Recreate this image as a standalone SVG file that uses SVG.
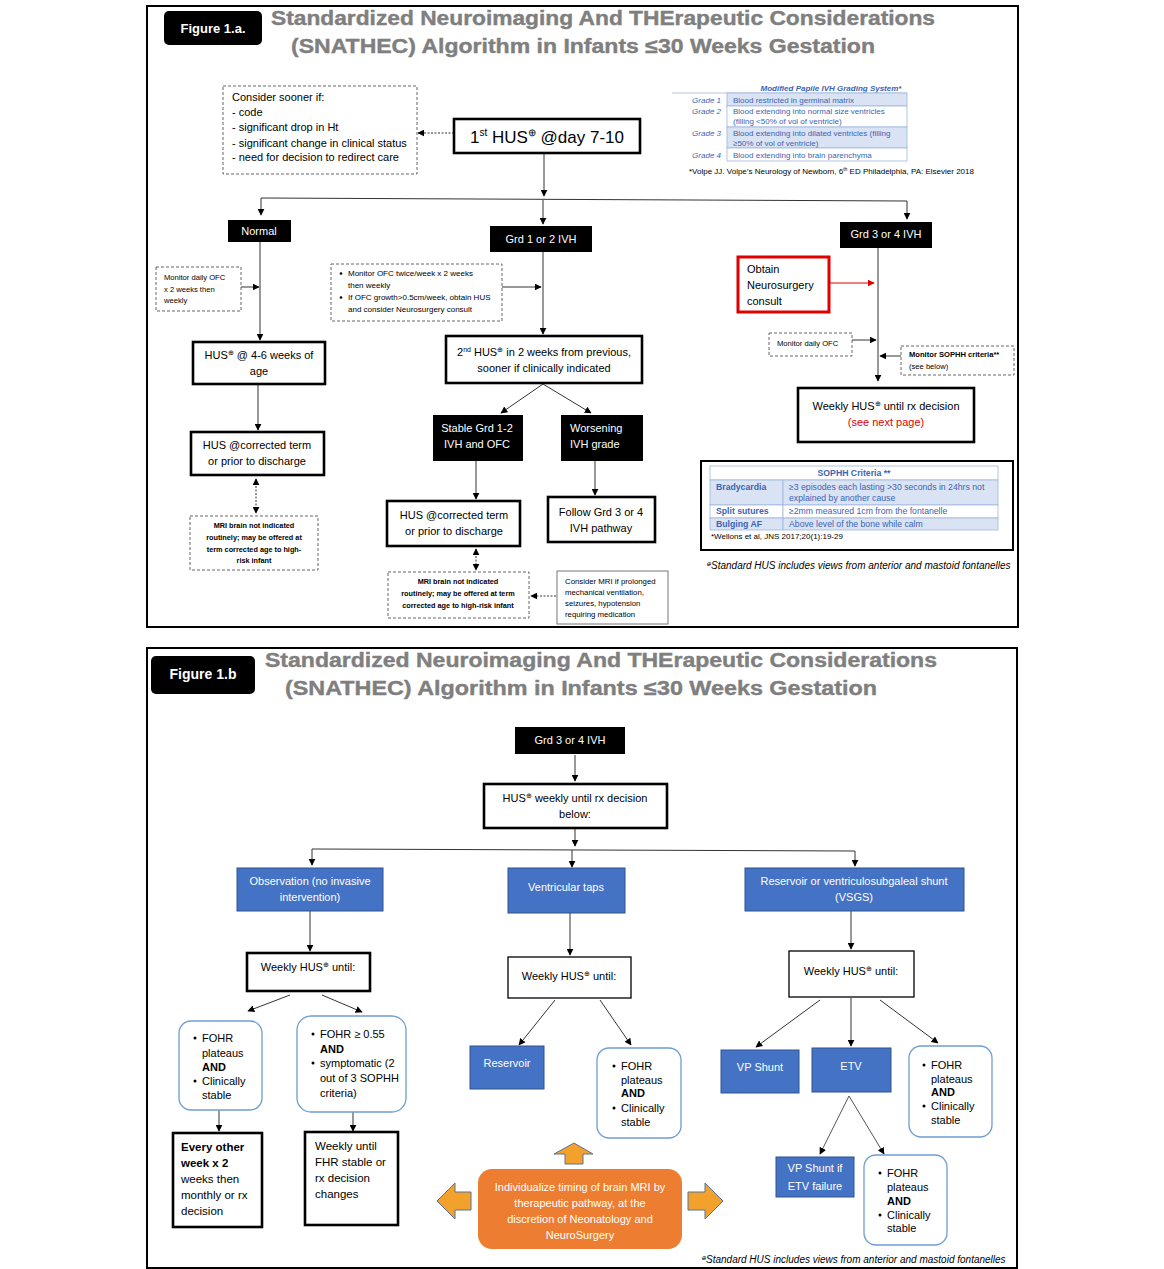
<svg xmlns="http://www.w3.org/2000/svg" width="1164" height="1269" viewBox="0 0 1164 1269">
<defs>
<marker id="ah" viewBox="0 0 10 10" refX="9" refY="5" markerWidth="7" markerHeight="7" orient="auto-start-reverse" markerUnits="userSpaceOnUse"><path d="M0,0 L10,5 L0,10 z" fill="#000"/></marker>
<marker id="ahr" viewBox="0 0 10 10" refX="9" refY="5" markerWidth="7" markerHeight="7" orient="auto" markerUnits="userSpaceOnUse"><path d="M0,0 L10,5 L0,10 z" fill="#e00000"/></marker>
</defs>
<style>
text{font-family:"Liberation Sans",Arial,sans-serif;font-size:11px;fill:#000}
.c{text-anchor:middle}
.e{text-anchor:end}
.w{fill:#fff}
.b{font-weight:bold}
.i{font-style:italic}
.ttl{font-size:20px;font-weight:bold;fill:#7f7f7f;stroke:#7f7f7f;stroke-width:0.4}
.frame{fill:none;stroke:#000;stroke-width:2}
.thick{fill:#fff;stroke:#000;stroke-width:2.6}
.dash{fill:#fff;stroke:#666;stroke-width:1;stroke-dasharray:3 2}
.blk{fill:#000}
.blue{fill:#4472c4;stroke:#2f528f;stroke-width:1}
.rnd{fill:#fff;stroke:#6d9dd2;stroke-width:1.3}
.ln{fill:none;stroke:#333;stroke-width:1;marker-end:url(#ah)}
.dl{fill:none;stroke:#333;stroke-width:1;stroke-dasharray:2 1.5;marker-end:url(#ah)}
.dd{fill:none;stroke:#333;stroke-width:1;stroke-dasharray:2 1.5;marker-end:url(#ah);marker-start:url(#ah)}
.s8{font-size:8px}
.s86{font-size:8.7px}
.s7{font-size:7.3px}
.bt{fill:#3b64b4}
.cell{fill:#dae3f3;stroke:#9fb6dc;stroke-width:0.8}
.cellw{fill:#fff;stroke:#9fb6dc;stroke-width:0.8}
.arr{fill:#f2a22c;stroke:#5a7394;stroke-width:1}
.fn{font-size:10px;font-style:italic}
</style>

<!-- Figure 1.a frame and title -->
<g id="fig1a">
<rect class="frame" x="147" y="6" width="871" height="621"/>
<rect x="164" y="11" width="98" height="34" rx="5" class="blk"/>
<text x="213" y="33" class="c w b" style="font-size:13px">Figure 1.a.</text>
<text x="603" y="25" class="c ttl" textLength="664" lengthAdjust="spacingAndGlyphs">Standardized Neuroimaging And THErapeutic Considerations</text>
<text x="583" y="53" class="c ttl" textLength="584" lengthAdjust="spacingAndGlyphs">(SNATHEC) Algorithm in Infants ≤30 Weeks Gestation</text>
</g>

<!-- connectors figure 1a -->
<g id="connectors-1a">
<line class="dl" x1="454" y1="133" x2="418" y2="133"/>
<line class="ln" x1="544" y1="153" x2="544" y2="196"/>
<line x1="261" y1="198" x2="907" y2="201" stroke="#333" stroke-width="1"/>
<line class="ln" x1="261" y1="198" x2="261" y2="215"/>
<line class="ln" x1="543" y1="200" x2="543" y2="224"/>
<line class="ln" x1="907" y1="201" x2="907" y2="219"/>
<line class="ln" x1="260" y1="242" x2="260" y2="340"/>
<line class="ln" x1="241" y1="287" x2="259" y2="287"/>
<line class="ln" x1="258" y1="384" x2="258" y2="430"/>
<line class="dd" x1="256" y1="479" x2="256" y2="513"/>
<line class="ln" x1="543" y1="252" x2="543" y2="334"/>
<line class="ln" x1="502" y1="287" x2="541" y2="287"/>
<line class="ln" x1="543" y1="384" x2="501" y2="413"/>
<line class="ln" x1="543" y1="384" x2="591" y2="413"/>
<line class="ln" x1="476" y1="461" x2="476" y2="499"/>
<line class="ln" x1="595" y1="461" x2="595" y2="495"/>
<line class="dd" x1="476" y1="549" x2="476" y2="570"/>
<line class="dl" x1="556" y1="596" x2="531" y2="596"/>
<line class="ln" x1="878" y1="248" x2="878" y2="381"/>
<line x1="830" y1="283" x2="874" y2="283" stroke="#e00000" stroke-width="1" marker-end="url(#ahr)"/>
<line class="ln" x1="852" y1="340" x2="876" y2="340"/>
<line class="ln" x1="901" y1="356" x2="880" y2="356"/>
</g>

<g id="consider">
<rect class="dash" x="223" y="86" width="194" height="88"/>
<text x="232" y="101">Consider sooner if:</text>
<text x="232" y="116">- code</text>
<text x="232" y="131">- significant drop in Ht</text>
<text x="232" y="147">- significant change in clinical status</text>
<text x="232" y="161">- need for decision to redirect care</text>
</g>

<g id="hus1">
<rect class="thick" x="454" y="119" width="186" height="34"/>
<text x="547" y="143" class="c" style="font-size:17px">1<tspan font-size="10" dy="-7">st</tspan><tspan dy="7"> HUS</tspan><tspan font-size="10" dy="-7">⊕</tspan><tspan dy="7"> @day 7-10</tspan></text>
</g>

<g id="grading-table">
<text x="831" y="91" class="c s8 b i bt">Modified Papile IVH Grading System*</text>
<line x1="672" y1="93" x2="907" y2="93" stroke="#9fb6dc" stroke-width="0.8"/>
<rect class="cell" x="727" y="93" width="180" height="13"/>
<rect class="cellw" x="727" y="106" width="180" height="21"/>
<rect class="cell" x="727" y="127" width="180" height="21"/>
<rect class="cellw" x="727" y="148" width="180" height="13"/>
<text x="721" y="103" class="e s8 i bt">Grade 1</text>
<text x="733" y="103" class="s8 bt">Blood restricted in germinal matrix</text>
<text x="721" y="114" class="e s8 i bt">Grade 2</text>
<text x="733" y="114" class="s8 bt">Blood extending into normal size ventricles</text>
<text x="733" y="124" class="s8 bt">(filling &lt;50% of vol of ventricle)</text>
<text x="721" y="136" class="e s8 i bt">Grade 3</text>
<text x="733" y="136" class="s8 bt">Blood extending into dilated ventricles (filling</text>
<text x="733" y="146" class="s8 bt">≥50% of vol of ventricle)</text>
<text x="721" y="158" class="e s8 i bt">Grade 4</text>
<text x="733" y="158" class="s8 bt">Blood extending into brain parenchyma</text>
<text x="689" y="174" class="s8">*Volpe JJ. Volpe’s Neurology of Newborn, 6<tspan font-size="5" dy="-3">th</tspan><tspan dy="3"> ED Philadelphia, PA: Elsevier 2018</tspan></text>
</g>

<g id="normal">
<rect class="blk" x="228" y="220" width="63" height="22"/>
<text x="259" y="235" class="c w">Normal</text>
</g>
<g id="grd12">
<rect class="blk" x="490" y="226" width="102" height="26"/>
<text x="541" y="243" class="c w">Grd 1 or 2 IVH</text>
</g>
<g id="grd34">
<rect class="blk" x="840" y="222" width="92" height="26"/>
<text x="886" y="238" class="c w">Grd 3 or 4 IVH</text>
</g>

<g id="monitor-left">
<rect class="dash" x="156" y="267" width="85" height="44"/>
<text x="164" y="280" style="font-size:7.6px">Monitor daily OFC</text>
<text x="164" y="292" style="font-size:7.6px">x 2 weeks then</text>
<text x="164" y="303" style="font-size:7.6px">weekly</text>
</g>

<g id="hus46">
<rect class="thick" x="193" y="342" width="132" height="42"/>
<text x="259" y="359" class="c">HUS<tspan font-size="7" dy="-4">⊕</tspan><tspan dy="4"> @ 4-6 weeks of</tspan></text>
<text x="259" y="375" class="c">age</text>
</g>

<g id="hus-term-1">
<rect class="thick" x="191" y="432" width="133" height="43"/>
<text x="257" y="449" class="c">HUS @corrected term</text>
<text x="257" y="465" class="c">or prior to discharge</text>
</g>

<g id="mri-1">
<rect class="dash" x="190" y="516" width="128" height="54"/>
<text x="254" y="528" class="c s7 b">MRI brain not indicated</text>
<text x="254" y="540" class="c s7 b">routinely; may be offered at</text>
<text x="254" y="552" class="c s7 b">term corrected age to high-</text>
<text x="254" y="563" class="c s7 b">risk infant</text>
</g>

<g id="ofc-bullets">
<rect class="dash" x="331" y="264" width="171" height="57"/>
<circle cx="341" cy="273.5" r="1.3"/>
<text x="348" y="276" class="s8">Monitor OFC twice/week x 2 weeks</text>
<text x="348" y="288" class="s8">then weekly</text>
<circle cx="341" cy="297.5" r="1.3"/>
<text x="348" y="300" class="s8">If OFC growth&gt;0.5cm/week, obtain HUS</text>
<text x="348" y="312" class="s8">and consider Neurosurgery consult</text>
</g>

<g id="hus2">
<rect class="thick" x="446" y="336" width="196" height="47"/>
<text x="544" y="356" class="c">2<tspan font-size="7" dy="-4">nd</tspan><tspan dy="4"> HUS</tspan><tspan font-size="7" dy="-4">⊕</tspan><tspan dy="4"> in 2 weeks from previous,</tspan></text>
<text x="544" y="372" class="c">sooner if clinically indicated</text>
</g>

<g id="stable">
<rect class="blk" x="433" y="415" width="90" height="46"/>
<text x="477" y="432" class="c w">Stable Grd 1-2</text>
<text x="477" y="448" class="c w">IVH and OFC</text>
</g>
<g id="worsening">
<rect class="blk" x="561" y="415" width="82" height="46"/>
<text x="570" y="432" class="w">Worsening</text>
<text x="570" y="448" class="w">IVH grade</text>
</g>

<g id="hus-term-2">
<rect class="thick" x="387" y="501" width="133" height="45"/>
<text x="454" y="519" class="c">HUS @corrected term</text>
<text x="454" y="535" class="c">or prior to discharge</text>
</g>

<g id="follow">
<rect class="thick" x="548" y="497" width="107" height="45"/>
<text x="601" y="516" class="c">Follow Grd 3 or 4</text>
<text x="601" y="532" class="c">IVH pathway</text>
</g>

<g id="mri-2">
<rect class="dash" x="388" y="572" width="141" height="46"/>
<text x="458" y="584" class="c s7 b">MRI brain not indicated</text>
<text x="458" y="596" class="c s7 b">routinely; may be offered at term</text>
<text x="458" y="608" class="c s7 b">corrected age to high-risk infant</text>
</g>

<g id="consider-mri">
<rect x="557" y="571" width="111" height="53" fill="#fff" stroke="#777" stroke-width="1"/>
<text x="565" y="584" style="font-size:7.8px">Consider MRI if prolonged</text>
<text x="565" y="595" style="font-size:7.8px">mechanical ventilation,</text>
<text x="565" y="606" style="font-size:7.8px">seizures, hypotension</text>
<text x="565" y="617" style="font-size:7.8px">requiring medication</text>
</g>

<g id="neurosurgery">
<rect x="738" y="257" width="91" height="55" fill="#fff" stroke="#e00000" stroke-width="3"/>
<text x="747" y="273">Obtain</text>
<text x="747" y="289">Neurosurgery</text>
<text x="747" y="305">consult</text>
</g>

<g id="monitor-right">
<rect class="dash" x="769" y="333" width="83" height="23"/>
<text x="777" y="346" style="font-size:7.6px">Monitor daily OFC</text>
</g>

<g id="monitor-sophh">
<rect class="dash" x="901" y="346" width="113" height="29"/>
<text x="909" y="357" class="b" style="font-size:7.6px">Monitor SOPHH criteria**</text>
<text x="909" y="369" style="font-size:7.6px">(see below)</text>
</g>

<g id="weekly-hus-1a">
<rect class="thick" x="798" y="388" width="176" height="54"/>
<text x="886" y="410" class="c">Weekly HUS<tspan font-size="7" dy="-4">⊕</tspan><tspan dy="4"> until rx decision</tspan></text>
<text x="886" y="426" class="c" style="fill:#e00000">(see next page)</text>
</g>

<g id="sophh-table">
<rect x="701" y="461" width="312" height="89" fill="#fff" stroke="#000" stroke-width="2"/>
<rect class="cellw" x="710" y="466" width="288" height="14"/>
<rect class="cell" x="710" y="480" width="73" height="25"/>
<rect class="cell" x="783" y="480" width="215" height="25"/>
<rect class="cellw" x="710" y="505" width="73" height="13"/>
<rect class="cellw" x="783" y="505" width="215" height="13"/>
<rect class="cell" x="710" y="518" width="73" height="12"/>
<rect class="cell" x="783" y="518" width="215" height="12"/>
<text x="854" y="476" class="c s86 b bt">SOPHH Criteria **</text>
<text x="716" y="490" class="s86 b bt">Bradycardia</text>
<text x="789" y="490" class="s86 bt">≥3 episodes each lasting &gt;30 seconds in 24hrs not</text>
<text x="789" y="501" class="s86 bt">explained by another cause</text>
<text x="716" y="514" class="s86 b bt">Split sutures</text>
<text x="789" y="514" class="s86 bt">≥2mm measured 1cm from the fontanelle</text>
<text x="716" y="527" class="s86 b bt">Bulging AF</text>
<text x="789" y="527" class="s86 bt">Above level of the bone while calm</text>
<text x="711" y="539" class="s8">*Wellons et al, JNS 2017;20(1):19-29</text>
</g>

<g id="footnote-1a">
<text x="706" y="569" class="fn"><tspan font-size="6" dy="-3">⊕</tspan><tspan dy="3">Standard HUS includes views from anterior and mastoid fontanelles</tspan></text>
</g>

<!-- Figure 1.b -->
<g id="fig1b">
<rect class="frame" x="147" y="648" width="870" height="620"/>
<rect x="151" y="656" width="104" height="38" rx="5" class="blk"/>
<text x="203" y="679" class="c w b" style="font-size:14px">Figure 1.b</text>
<text x="601" y="667" class="c ttl" textLength="672" lengthAdjust="spacingAndGlyphs">Standardized Neuroimaging And THErapeutic Considerations</text>
<text x="581" y="695" class="c ttl" textLength="592" lengthAdjust="spacingAndGlyphs">(SNATHEC) Algorithm in Infants ≤30 Weeks Gestation</text>
</g>

<g id="connectors-1b">
<line class="ln" x1="575" y1="755" x2="575" y2="781"/>
<line class="ln" x1="575" y1="828" x2="575" y2="846"/>
<line x1="312" y1="849" x2="855" y2="851" stroke="#333" stroke-width="1"/>
<line class="ln" x1="312" y1="849" x2="312" y2="865"/>
<line class="ln" x1="572" y1="850" x2="572" y2="867"/>
<line class="ln" x1="855" y1="851" x2="855" y2="866"/>
<line class="ln" x1="310" y1="911" x2="310" y2="951"/>
<line class="ln" x1="570" y1="913" x2="570" y2="955"/>
<line class="ln" x1="851" y1="911" x2="851" y2="949"/>
<line class="ln" x1="290" y1="995" x2="248" y2="1011"/>
<line class="ln" x1="322" y1="995" x2="362" y2="1012"/>
<line class="ln" x1="219" y1="1110" x2="219" y2="1131"/>
<line class="ln" x1="353" y1="1112" x2="353" y2="1131"/>
<line class="ln" x1="555" y1="1000" x2="519" y2="1045"/>
<line class="ln" x1="600" y1="1000" x2="631" y2="1045"/>
<line class="ln" x1="820" y1="1000" x2="756" y2="1047"/>
<line class="ln" x1="851" y1="998" x2="851" y2="1046"/>
<line class="ln" x1="880" y1="1000" x2="938" y2="1043"/>
<line class="ln" x1="849" y1="1096" x2="820" y2="1154" style="stroke:#555"/>
<line class="ln" x1="849" y1="1096" x2="884" y2="1154" style="stroke:#555"/>
</g>

<g id="grd34-b">
<rect class="blk" x="515" y="727" width="110" height="27"/>
<text x="570" y="744" class="c w">Grd 3 or 4 IVH</text>
</g>

<g id="hus-weekly-b">
<rect class="thick" x="484" y="784" width="183" height="44"/>
<text x="575" y="802" class="c">HUS<tspan font-size="7" dy="-4">⊕</tspan><tspan dy="4"> weekly until rx decision</tspan></text>
<text x="575" y="818" class="c">below:</text>
</g>

<g id="observation">
<rect class="blue" x="237" y="868" width="146" height="43"/>
<text x="310" y="885" class="c w">Observation (no invasive</text>
<text x="310" y="901" class="c w">intervention)</text>
</g>
<g id="taps">
<rect class="blue" x="508" y="868" width="117" height="45"/>
<text x="566" y="891" class="c w">Ventricular taps</text>
</g>
<g id="reservoir-vsgs">
<rect class="blue" x="745" y="868" width="219" height="43"/>
<text x="854" y="885" class="c w">Reservoir or ventriculosubgaleal shunt</text>
<text x="854" y="901" class="c w">(VSGS)</text>
</g>

<g id="weekly-left">
<rect class="thick" x="247" y="953" width="123" height="38"/>
<text x="308" y="971" class="c">Weekly HUS<tspan font-size="7" dy="-4">⊕</tspan><tspan dy="4"> until:</tspan></text>
</g>
<g id="weekly-mid">
<rect x="508" y="957" width="123" height="41" fill="#fff" stroke="#000" stroke-width="1.3"/>
<text x="569" y="980" class="c">Weekly HUS<tspan font-size="7" dy="-4">⊕</tspan><tspan dy="4"> until:</tspan></text>
</g>
<g id="weekly-right">
<rect x="789" y="951" width="125" height="46" fill="#fff" stroke="#000" stroke-width="1.3"/>
<text x="851" y="975" class="c">Weekly HUS<tspan font-size="7" dy="-4">⊕</tspan><tspan dy="4"> until:</tspan></text>
</g>

<g id="obs-stable">
<rect class="rnd" x="179" y="1021" width="83" height="89" rx="12"/>
<circle cx="195" cy="1038" r="1.5"/>
<text x="202" y="1042">FOHR</text>
<text x="202" y="1057">plateaus</text>
<text x="202" y="1071" class="b">AND</text>
<circle cx="195" cy="1081" r="1.5"/>
<text x="202" y="1085">Clinically</text>
<text x="202" y="1099">stable</text>
</g>

<g id="obs-fohr">
<rect class="rnd" x="297" y="1016" width="109" height="96" rx="14"/>
<circle cx="313" cy="1034" r="1.5"/>
<text x="320" y="1038">FOHR ≥ 0.55</text>
<text x="320" y="1053" class="b">AND</text>
<circle cx="313" cy="1063" r="1.5"/>
<text x="320" y="1067">symptomatic (2</text>
<text x="320" y="1082">out of 3 SOPHH</text>
<text x="320" y="1097">criteria)</text>
</g>

<g id="every-other">
<rect class="thick" x="173" y="1133" width="89" height="94"/>
<text x="181" y="1151" class="b" style="font-size:11.5px">Every other</text>
<text x="181" y="1167" class="b" style="font-size:11.5px">week x 2</text>
<text x="181" y="1183" style="font-size:11.5px">weeks then</text>
<text x="181" y="1199" style="font-size:11.5px">monthly or rx</text>
<text x="181" y="1215" style="font-size:11.5px">decision</text>
</g>

<g id="weekly-until">
<rect class="thick" x="305" y="1132" width="93" height="93"/>
<text x="315" y="1150" style="font-size:11.5px">Weekly until</text>
<text x="315" y="1166" style="font-size:11.5px">FHR stable or</text>
<text x="315" y="1182" style="font-size:11.5px">rx decision</text>
<text x="315" y="1198" style="font-size:11.5px">changes</text>
</g>

<g id="reservoir">
<rect class="blue" x="470" y="1046" width="74" height="43"/>
<text x="507" y="1067" class="c w">Reservoir</text>
</g>

<g id="taps-stable">
<rect class="rnd" x="597" y="1048" width="84" height="90" rx="12"/>
<circle cx="614" cy="1066" r="1.5"/>
<text x="621" y="1070">FOHR</text>
<text x="621" y="1084">plateaus</text>
<text x="621" y="1097" class="b">AND</text>
<circle cx="614" cy="1108" r="1.5"/>
<text x="621" y="1112">Clinically</text>
<text x="621" y="1126">stable</text>
</g>

<g id="vp-shunt">
<rect class="blue" x="721" y="1050" width="78" height="43"/>
<text x="760" y="1071" class="c w">VP Shunt</text>
</g>
<g id="etv">
<rect class="blue" x="812" y="1048" width="79" height="44"/>
<text x="851" y="1070" class="c w">ETV</text>
</g>

<g id="vsgs-stable">
<rect class="rnd" x="909" y="1046" width="83" height="91" rx="12"/>
<circle cx="924" cy="1065" r="1.5"/>
<text x="931" y="1069">FOHR</text>
<text x="931" y="1083">plateaus</text>
<text x="931" y="1096" class="b">AND</text>
<circle cx="924" cy="1106" r="1.5"/>
<text x="931" y="1110">Clinically</text>
<text x="931" y="1124">stable</text>
</g>

<g id="vp-if-etv">
<rect class="blue" x="776" y="1157" width="78" height="40"/>
<text x="815" y="1172" class="c w">VP Shunt if</text>
<text x="815" y="1190" class="c w">ETV failure</text>
</g>

<g id="etv-stable">
<rect class="rnd" x="864" y="1155" width="83" height="90" rx="12"/>
<circle cx="880" cy="1173" r="1.5"/>
<text x="887" y="1177">FOHR</text>
<text x="887" y="1191">plateaus</text>
<text x="887" y="1205" class="b">AND</text>
<circle cx="880" cy="1215" r="1.5"/>
<text x="887" y="1219">Clinically</text>
<text x="887" y="1232">stable</text>
</g>

<g id="mri-timing">
<polygon class="arr" points="565,1164 583,1164 583,1154 593,1154 574,1143 554,1154 565,1154"/>
<polygon class="arr" points="471,1192 455,1192 455,1183 437,1201 455,1219 455,1210 471,1210"/>
<polygon class="arr" points="688,1192 705,1192 705,1183 723,1201 705,1219 705,1210 688,1210"/>
<rect x="478" y="1169" width="204" height="80" rx="14" fill="#ed7d31"/>
<text x="580" y="1191" class="c w">Individualize timing of brain MRI by</text>
<text x="580" y="1207" class="c w">therapeutic pathway, at the</text>
<text x="580" y="1223" class="c w">discretion of Neonatology and</text>
<text x="580" y="1239" class="c w">NeuroSurgery</text>
</g>

<g id="footnote-1b">
<text x="701" y="1263" class="fn"><tspan font-size="6" dy="-3">⊕</tspan><tspan dy="3">Standard HUS includes views from anterior and mastoid fontanelles</tspan></text>
</g>
</svg>
